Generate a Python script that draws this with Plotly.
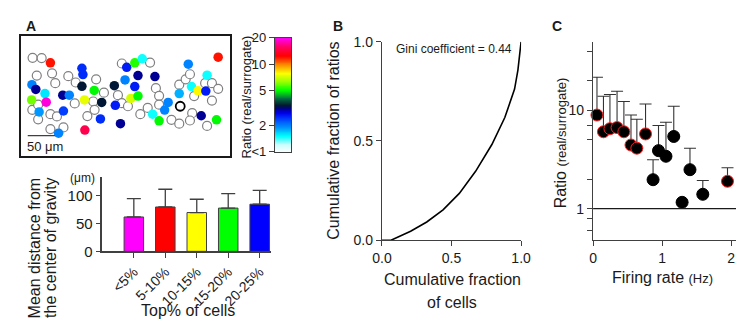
import numpy as np
import plotly.graph_objects as go

W, H = 744, 321
FONT = "Arial, 'Liberation Sans', sans-serif"
TXT = "#1a1a1a"
AXC = "#404040"

# ---------------- Panel A: cell map (field of view units) ----------------
open_x = [12.0, 21.3, 16.3, 32.0, 35.3, 48.7, 56.3, 77.3, 85.3, 103.7, 99.7, 55.3, 74.3, 75.7, 68.3,
          11.7, 17.7, 17.7, 30.3, 37.0, 30.3, 43.7, 103.7, 110.0, 132.7, 138.7, 142.0, 142.0, 130.3,
          122.7, 162.7, 169.3, 173.7, 189.3, 196.3, 202.7, 196.3, 178.0, 176.0, 173.7, 154.7, 162.7, 191.3]
open_y = [23.0, 23.3, 41.7, 39.3, 49.7, 42.3, 49.0, 45.7, 59.7, 29.0, 62.3, 71.0, 69.0, 77.7, 84.3,
          77.7, 72.3, 87.7, 82.3, 84.7, 98.0, 96.3, 70.7, 74.0, 28.0, 55.0, 63.0, 72.3, 75.7,
          82.3, 51.3, 45.7, 40.3, 49.7, 49.7, 55.7, 68.0, 63.3, 81.3, 89.0, 88.3, 92.3, 94.7]
ring_x = [163.7]
ring_y = [74.0]
cell_x = [30.3, 62.7, 63.7, 11.3, 15.3, 24.7, 43.0, 49.7, 62.7, 75.3, 96.0, 11.0, 26.0, 65.3, 83.0,
          97.0, 18.7, 43.7, 81.7, 102.3, 65.7, 38.7, 108.7, 117.0, 124.7, 107.0, 120.3, 137.7, 117.0,
          113.0, 120.3, 151.3, 147.7, 135.3, 142.0, 172.0, 191.3, 175.3, 162.7, 182.0, 190.0, 202.7,
          185.3, 201.0]
cell_y = [28.3, 34.0, 40.7, 51.3, 56.3, 60.7, 62.3, 62.3, 53.0, 57.3, 52.3, 67.3, 69.7, 67.3, 70.0,
          73.0, 80.0, 79.0, 87.3, 92.3, 99.0, 102.3, 33.0, 28.3, 24.0, 46.3, 41.7, 42.7, 53.3,
          65.7, 63.3, 70.0, 78.0, 82.3, 89.3, 29.7, 41.3, 53.3, 60.7, 57.7, 58.0, 22.3,
          84.0, 88.3]
cell_ratio = [12, 2.5, 2.5, 2.0, 3.1, 1.6, 3.1, 2.0, 3.4, 5, 3.4, 6, 19, 7.5, 3.4,
              2.6, 1.9, 2.4, 2.5, 3.1, 15, 2.0, 2.6, 5.3, 1.5, 2.0, 3.1, 3.1, 2.6,
              7.2, 5, 2.0, 2.0, 1.5, 5, 2.0, 1.5, 1.5, 1.8, 8, 2.6, 12,
              3.1, 5]
FIELD_W, FIELD_H = 215, 126
UNITS_PER_UM = 0.56
SCALE_UM = 50

ratio_ticks = [1, 2, 5, 10, 20]
ratio_ticktext = ["<1", "2", "5", "10", "20"]
RMAX = 20

colorscale = [[0.0, "#ffffff"], [0.07, "#c4ffff"], [0.14, "#00ffff"], [0.22, "#0090ff"],
              [0.29, "#0040ff"], [0.34, "#0000ee"], [0.38, "#000090"], [0.41, "#001830"],
              [0.47, "#007040"], [0.54, "#00ff00"], [0.62, "#a0ff00"], [0.69, "#ffff00"],
              [0.77, "#ff8000"], [0.84, "#ff0000"], [0.92, "#ff0060"], [1.0, "#ff00ff"]]

# ---------------- Panel A: bar chart ----------------
bar_cats = ["<5%", "5-10%", "10-15%", "15-20%", "20-25%"]
bar_mean = [62, 80, 70, 78, 85]
bar_upper = [95, 112, 94, 104, 110]
bar_colors = ["#ff00ff", "#ff0000", "#ffff00", "#00ff00", "#0000ff"]

# ---------------- Panel B: Lorenz curve ----------------
lor_x = [0, 0.065, 0.206, 0.322, 0.439, 0.556, 0.673, 0.79, 0.883, 0.953, 0.977, 0.993, 1.0]
lor_y = [0, 0, 0.045, 0.092, 0.153, 0.236, 0.347, 0.482, 0.618, 0.761, 0.857, 0.94, 1.0]
gini = 0.44

# ---------------- Panel C ----------------
rate = [0.056, 0.15, 0.244, 0.347, 0.446, 0.549, 0.634, 0.76, 0.869, 0.948, 1.056, 1.169, 1.29, 1.404, 1.59, 1.948]
ratio = [8.95, 6.05, 6.5, 6.67, 6.05, 4.44, 4.12, 5.75, 1.97, 3.89, 3.41, 5.42, 1.16, 2.49, 1.40, 1.90]
ratio_upper = [21.7, 13.9, 14.5, 15.6, 12.3, 8.95, 8.1, 11.6, 3.14, 7.0, 7.55, 11.0, 1.16, 4.12, 1.93, 2.61]
significant = [True] * 8 + [False] * 7 + [True]


def dxp(a, b):
    return [a / W, b / W]


def dyp(top, bottom):
    return [1 - bottom / H, 1 - top / H]


fig = go.Figure()

# map
fig.add_trace(go.Scatter(x=open_x, y=open_y, mode="markers", xaxis="x", yaxis="y",
                         marker=dict(size=9, color="white", line=dict(color="#808080", width=1.2)),
                         showlegend=False, hoverinfo="skip"))
fig.add_trace(go.Scatter(x=ring_x, y=ring_y, mode="markers", xaxis="x", yaxis="y",
                         marker=dict(size=9, color="white", line=dict(color="#000000", width=1.8)),
                         showlegend=False, hoverinfo="skip"))
fig.add_trace(go.Scatter(x=cell_x, y=cell_y, mode="markers", xaxis="x", yaxis="y",
                         marker=dict(size=9.5, color=np.log10(cell_ratio), colorscale=colorscale,
                                     cmin=0, cmax=np.log10(RMAX), showscale=False, line=dict(width=0)),
                         showlegend=False, hoverinfo="skip"))
# scale bar
fig.add_trace(go.Scatter(x=[7, 7 + SCALE_UM * UNITS_PER_UM], y=[105, 105], mode="lines",
                         xaxis="x", yaxis="y", line=dict(color="#404040", width=1.3),
                         showlegend=False, hoverinfo="skip"))

# colour bar as heatmap
levels = np.linspace(0, np.log10(RMAX), 240)
fig.add_trace(go.Heatmap(z=[[v] for v in levels], x=[0], y=levels, xaxis="x2", yaxis="y2",
                         colorscale=colorscale, zmin=0, zmax=np.log10(RMAX), showscale=False,
                         hoverinfo="skip"))

# bars
fig.add_trace(go.Bar(x=bar_cats, y=bar_mean, xaxis="x3", yaxis="y3", width=0.62,
                     marker=dict(color=bar_colors, line=dict(color="#404040", width=1)),
                     error_y=dict(type="data", symmetric=False,
                                  array=[u - m for u, m in zip(bar_upper, bar_mean)],
                                  arrayminus=[0] * len(bar_mean), color="#404040", thickness=1.3, width=7),
                     showlegend=False, hoverinfo="skip"))

# Lorenz
fig.add_trace(go.Scatter(x=lor_x, y=lor_y, mode="lines", xaxis="x4", yaxis="y4",
                         line=dict(color="black", width=1.6), cliponaxis=False,
                         showlegend=False, hoverinfo="skip"))

# panel C
fig.add_trace(go.Scatter(x=rate, y=ratio, mode="markers", xaxis="x5", yaxis="y5",
                         marker=dict(size=12, color="black",
                                     line=dict(color=["#ff2020" if s else "black" for s in significant], width=1)),
                         error_y=dict(type="data", symmetric=False,
                                      array=[u - r for u, r in zip(ratio_upper, ratio)],
                                      arrayminus=[0] * len(ratio), color="#333333", thickness=1.1, width=6),
                         cliponaxis=False, showlegend=False, hoverinfo="skip"))

tickfont = dict(family=FONT, size=14, color=TXT)
common = dict(showgrid=False, zeroline=False, linecolor=AXC, tickcolor=AXC, tickfont=tickfont)

layout = dict(
    width=W, height=H, margin=dict(l=0, r=0, t=0, b=0),
    paper_bgcolor="white", plot_bgcolor="rgba(0,0,0,0)",
    font=dict(family=FONT, color=TXT),
    xaxis=dict(domain=dxp(3, 218), range=[0, FIELD_W], anchor="y", showline=True, mirror=True,
               linecolor="#1a1a1a", linewidth=2, showticklabels=False, ticks="", showgrid=False, zeroline=False),
    yaxis=dict(domain=dyp(21, 147), range=[FIELD_H, 0], anchor="x", showline=True, mirror=True,
               linecolor="#1a1a1a", linewidth=2, showticklabels=False, ticks="", showgrid=False, zeroline=False),
    xaxis2=dict(domain=dxp(264, 281), range=[-0.5, 0.5], anchor="y2", showline=True, mirror=True,
                linecolor=AXC, linewidth=1.2, showticklabels=False, ticks="", showgrid=False, zeroline=False),
    yaxis2=dict(domain=dyp(23, 143), range=[0, np.log10(RMAX)], anchor="x2", side="left",
                tickvals=list(np.log10(ratio_ticks)), ticktext=ratio_ticktext, ticks="outside", ticklen=5,
                showline=True, mirror=True, linewidth=1.2, **{**common, "tickfont": dict(family=FONT, size=13, color=TXT)}),
    xaxis3=dict(domain=dxp(86.7, 260), type="category", range=[-1.0, 4.36], anchor="y3",
                showline=True, linewidth=1.5, ticks="outside", ticklen=5, tickangle=-45, **common),
    yaxis3=dict(domain=dyp(169.2, 247.7), range=[0, 134.5], anchor="x3", tickvals=[0, 50, 100],
                showline=True, linewidth=1.5, ticks="outside", ticklen=5, **{**common, "tickfont": dict(family=FONT, size=15, color=TXT)}),
    xaxis4=dict(domain=dxp(374, 517), range=[0, 1], anchor="y4", tickvals=[0, 0.5, 1],
                ticktext=["0.0", "0.5", "1.0"], showline=True, linewidth=1.3, ticks="outside", ticklen=5, **common),
    yaxis4=dict(domain=dyp(27, 236), range=[0, 1], anchor="x4", tickvals=[0, 0.5, 1],
                ticktext=["0.0", "0.5", "1.0"], showline=True, linewidth=1.3, ticks="outside", ticklen=5, **common),
    xaxis5=dict(domain=dxp(591, 742), range=[0, 2.13], anchor="y5", tickvals=[0, 1, 2],
                showline=True, linewidth=1.3, ticks="outside", ticklen=5, **common),
    yaxis5=dict(domain=dyp(27, 236), type="log", range=[-0.321, 1.698], anchor="x5",
                tickvals=[0.6, 0.8, 1, 2, 5, 7, 10, 20, 40],
                ticktext=["", "", "1", "", "", "", "10", "", ""],
                showline=True, linewidth=1.3, ticks="outside", ticklen=5, **common),
)
fig.update_layout(**layout)

fig.add_shape(type="line", xref="x5 domain", x0=0, x1=1, yref="y5", y0=1, y1=1,
              line=dict(color="#1a1a1a", width=1.2))


def ann(text, x, y, size, angle=0, xanchor="center", yanchor="middle"):
    fig.add_annotation(text=text, x=x / W, y=1 - y / H, xref="paper", yref="paper",
                       showarrow=False, textangle=angle, xanchor=xanchor, yanchor=yanchor,
                       font=dict(family=FONT, size=size, color=TXT))


ann("<b>A</b>", 6, 11, 14, xanchor="left")
ann("<b>B</b>", 322, 11, 14, xanchor="left")
ann("<b>C</b>", 547, 11, 14, xanchor="left")

ann("50 μm", 7, 137, 13, xanchor="left")
ann("Ratio (real/surrogate)", 235, 85, 13, angle=-90)
ann("(μm)", 66, 170, 12)
ann("Mean distance from", 17, 244, 16, angle=-90)
ann("the center of gravity", 34, 244, 16, angle=-90)
ann("Top% of cells", 175, 310, 16)

ann("Cumulative fraction of ratios", 324, 131, 16, angle=-90)
ann("Cumulative fraction", 446, 277, 16)
ann("of cells", 446, 302, 16)
ann("Gini coefficient = %.2f" % gini, 448, 35, 12)

ann("Ratio <span style='font-size:13px'>(real/surrogate)</span>", 557, 134, 16, angle=-90)
ann("Firing rate <span style='font-size:13px'>(Hz)</span>", 662, 275, 16)

fig.write_html("out.html")
